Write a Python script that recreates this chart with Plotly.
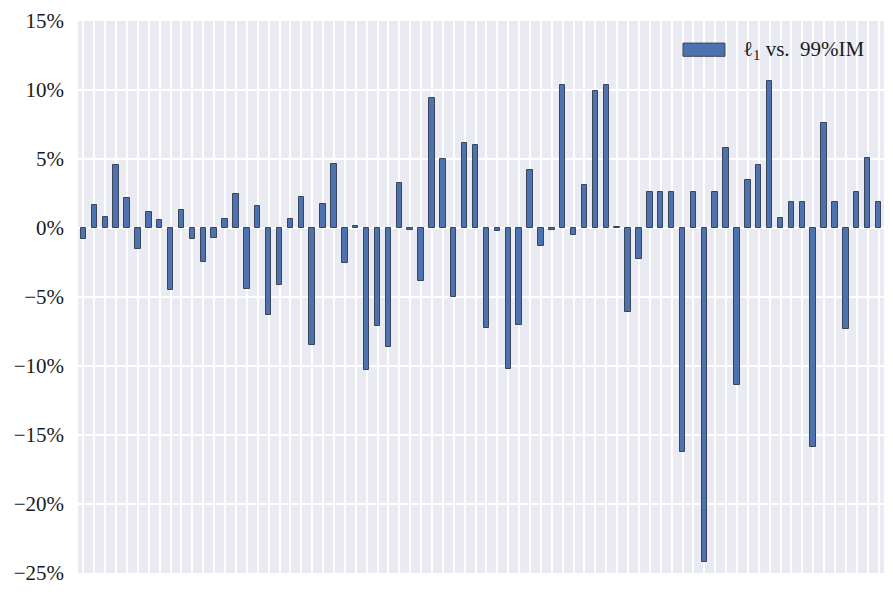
import plotly.graph_objects as go

# Percent differences (ℓ1 vs. 99%IM), one per category
values = [
    -0.82, 1.64, 0.77, 4.54, 2.17, -1.55, 1.14, 0.56, -4.52, 1.28,
    -0.82, -2.49, -0.75, 0.63, 2.44, -4.44, 1.57, -6.33, -4.15, 0.63,
    2.22, -8.50, 1.71, 4.61, -2.56, 0.12, -10.31, -7.13, -8.65, 3.24,
    -0.17, -3.86, 9.40, 4.98, -5.02, 6.14, 5.99, -7.27, -0.24, -10.24,
    -7.05, 4.18, -1.33, -0.17, 10.34, -0.53, 3.09, 9.90, 10.34, 0.05,
    -6.11, -2.27, 2.58, 2.58, 2.58, -16.26, 2.58, -24.23, 2.58, 5.77,
    -11.40, 3.45, 4.54, 10.63, 0.72, 1.86, 1.86, -15.85, 7.58, 1.86,
    -7.34, 2.58, 5.05, 1.86,
]
categories = list(range(len(values)))
y_ticks = [-25, -20, -15, -10, -5, 0, 5, 10, 15]
y_ticklabels = [("\u2212" if t < 0 else "") + f"{abs(t)}%" for t in y_ticks]
series_name = "\u2113<sub>1</sub> vs.  99%IM"

FONT = "Liberation Serif, Times New Roman, serif"
TEXT = "#1a1a1a"
BAR = "#4C72B0"
EDGE = "#3a4658"

fig = go.Figure()
fig.add_trace(go.Bar(
    x=categories, y=values, width=0.5,
    marker=dict(color=BAR, line=dict(color=EDGE, width=1)),
    name=series_name, showlegend=False,
))

# legend patch + label (matplotlib-style wide patch)
fig.add_shape(type="rect", xref="paper", yref="paper",
              x0=0.7506, x1=0.8027, y0=0.936, y1=0.960,
              fillcolor=BAR, line=dict(color=EDGE, width=1))
fig.add_annotation(xref="paper", yref="paper", x=0.822, y=0.947,
                   xanchor="left", yanchor="middle", showarrow=False,
                   text=series_name, font=dict(family=FONT, size=21, color=TEXT))

# page body has an 8px default margin: shrink the figure to compensate
fig.update_layout(
    width=885, height=586,
    margin=dict(l=70, r=9, t=13, b=21, autoexpand=False),
    paper_bgcolor="white", plot_bgcolor="#EAEAF2",
    font=dict(family=FONT, size=21, color=TEXT),
    bargap=0,
)
fig.update_xaxes(
    range=[-0.5, len(values) - 0.5], tickvals=categories, showticklabels=False,
    showgrid=True, gridcolor="white", gridwidth=1.8, zeroline=False,
    ticks="", showline=False, automargin=False,
)
fig.update_yaxes(
    range=[-25, 15], tickvals=y_ticks, ticktext=y_ticklabels,
    showgrid=True, gridcolor="white", gridwidth=1.8, zeroline=False,
    ticks="", showline=False, ticklabelstandoff=13, automargin=False,
)

fig.write_html("out.html")
